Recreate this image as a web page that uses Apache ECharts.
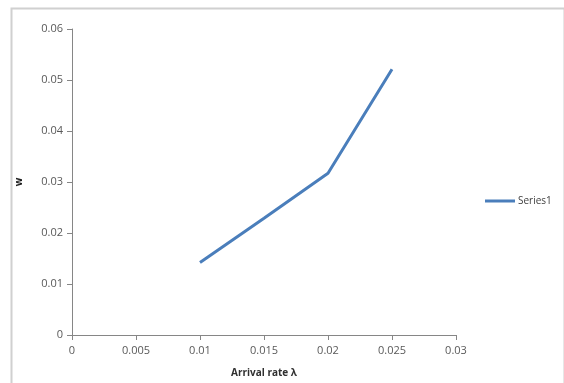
<!DOCTYPE html>
<html>
<head>
<meta charset="utf-8">
<script src="https://cdn.jsdelivr.net/npm/echarts@6/dist/echarts.min.js"></script>
<style>html,body{margin:0;padding:0;background:#fff;}#c{width:564px;height:383px;}</style>
</head>
<body>
<div id="c"></div>
<script>
var arrivalRates = [0.01, 0.015, 0.02, 0.025];
var wValues = [0.0142, 0.0229, 0.0317, 0.0521];
var xTickLabels = ['0', '0.005', '0.01', '0.015', '0.02', '0.025', '0.03'];
var yTickLabels = ['0', '0.01', '0.02', '0.03', '0.04', '0.05', '0.06'];
var seriesName = 'Series1';

var chart = echarts.init(document.getElementById('c'), null, {renderer: 'canvas'});
var font = 'Open Sans';
chart.setOption({
  animation: false,
  backgroundColor: '#ffffff',
  graphic: [{
    type: 'rect', left: 9, top: 6,
    shape: {width: 553, height: 390},
    style: {fill: 'none', stroke: '#d0d0d0', lineWidth: 2}
  }],
  grid: {left: 72, right: 108, top: 29, bottom: 48},
  legend: {
    data: [{name: seriesName, icon: 'path://M0,0L30,0L30,3L0,3Z'}],
    left: 480, top: 191, itemWidth: 30, itemHeight: 3, itemGap: 2,
    textStyle: {fontFamily: font, fontSize: 10, color: '#404040', padding: [0,0,0,-2]}
  },
  xAxis: {
    type: 'value', min: 0, max: 0.03, interval: 0.005,
    name: 'Arrival rate λ', nameLocation: 'middle', nameGap: 33,
    nameTextStyle: {fontFamily: font, fontSize: 10, fontWeight: 'bold', color: '#303030'},
    axisLine: {show: true, lineStyle: {color: '#868686', width: 1}},
    axisTick: {show: true, length: 5, lineStyle: {color: '#868686'}},
    splitLine: {show: false},
    axisLabel: {
      fontFamily: font, fontSize: 11, color: '#595959', margin: 10,
      formatter: function (v) { return xTickLabels[Math.round(v / 0.005)]; }
    }
  },
  yAxis: {
    type: 'value', min: 0, max: 0.06, interval: 0.01,
    name: 'w', nameLocation: 'middle', nameGap: 48, nameRotate: 90,
    nameTextStyle: {fontFamily: font, fontSize: 10, fontWeight: 'bold', color: '#202020'},
    axisLine: {show: true, lineStyle: {color: '#868686', width: 1}},
    axisTick: {show: true, length: 5, lineStyle: {color: '#868686'}},
    splitLine: {show: false},
    axisLabel: {
      fontFamily: font, fontSize: 11, color: '#595959', margin: 9,
      formatter: function (v) { return yTickLabels[Math.round(v / 0.01)]; }
    }
  },
  series: [{
    name: seriesName, type: 'line',
    data: arrivalRates.map(function (x, i) { return [x, wValues[i]]; }),
    symbol: 'none',
    lineStyle: {color: '#4a7ebb', width: 3},
    itemStyle: {color: '#4a7ebb'}
  }]
});
</script>
</body>
</html>
